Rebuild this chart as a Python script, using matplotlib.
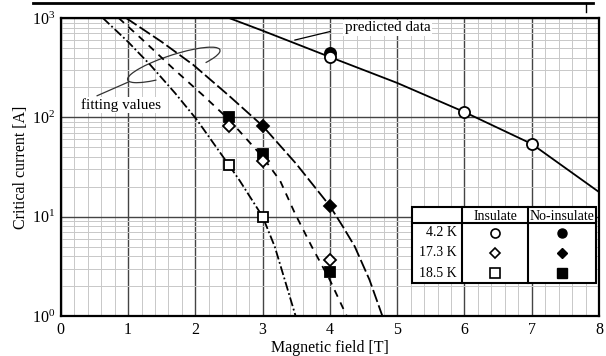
import matplotlib
matplotlib.use("Agg")
import matplotlib.pyplot as plt
from matplotlib.patches import Arc, Rectangle
from matplotlib.lines import Line2D
from matplotlib.ticker import MultipleLocator, LogLocator
from matplotlib.transforms import ScaledTranslation

plt.rcParams['font.family'] = ['Liberation Serif', 'DejaVu Serif']
plt.rcParams['mathtext.fontset'] = 'stix'

# predicted curve (solid)
pred_x = [2.5, 3, 4, 5, 6, 7, 8]
pred_y = [1000, 745, 405, 222, 113, 54, 17.7]

# fitting curves
fit_long_x = [0.97, 1.5, 1.97, 2.5, 3.0, 3.5, 3.7, 4.0, 4.2, 4.37, 4.59, 4.78]
fit_long_y = [1000, 575, 337, 165, 82, 34, 23, 12.8, 7.8, 5.0, 2.3, 1.0]
fit_dash_x = [0.86, 1.25, 1.67, 2.1, 2.5, 3.0, 3.26, 3.48, 3.73, 4.0, 4.25]
fit_dash_y = [1000, 575, 310, 170, 95, 40, 23, 10.8, 5.0, 2.3, 1.0]
fit_dd_x = [0.625, 1.0, 1.33, 1.7, 2.02, 2.5, 2.66, 3.0, 3.18, 3.33, 3.49]
fit_dd_y = [1000, 575, 337, 175, 95, 33, 23, 10, 5.0, 2.3, 1.0]

# measured points
ins_42_x, ins_42_y = [4, 6, 7], [405, 113, 54]
noi_42_x, noi_42_y = [4], [445]
ins_173_x, ins_173_y = [2.5, 3, 4], [82, 36, 3.7]
noi_173_x, noi_173_y = [3, 4], [82, 12.8]
ins_185_x, ins_185_y = [2.5, 3], [33, 10]
noi_185_x, noi_185_y = [2.5, 3, 4], [100, 43, 2.8]

temps = ["4.2 K", "17.3 K", "18.5 K"]
leg_markers = ["o", "D", "s"]
leg_sizes = [6.5, 5, 6.5]

fig = plt.figure(figsize=(6.06, 3.56), dpi=100)
ax = fig.add_axes([60.8 / 606, 40 / 356, 538.2 / 606, 298 / 356])

ax.set_yscale("log")
ax.set_xlim(0, 8)
ax.set_ylim(1, 1000)
ax.xaxis.set_major_locator(MultipleLocator(1))
ax.xaxis.set_minor_locator(MultipleLocator(0.2))
ax.yaxis.set_major_locator(LogLocator(base=10))
ax.yaxis.set_minor_locator(LogLocator(base=10, subs=range(2, 10)))
ax.grid(which="major", color="#444444", lw=1.0)
ax.grid(which="minor", color="#c8c8c8", lw=0.7)
ax.set_axisbelow(True)
ax.tick_params(which="both", length=0, labelsize=11.5, pad=4)
for s in ax.spines.values():
    s.set_linewidth(1.6)

ax.set_xlabel("Magnetic field [T]", fontsize=11.5, labelpad=2)
ax.set_ylabel("Critical current [A]", fontsize=11.5, labelpad=2)

ax.plot(pred_x, pred_y, color="black", lw=1.3)
ax.plot(fit_long_x, fit_long_y, color="black", lw=1.3, dashes=(7, 2))
ax.plot(fit_dash_x, fit_dash_y, color="black", lw=1.3, dashes=(4, 3.5))
ax.plot(fit_dd_x, fit_dd_y, color="black", lw=1.3, dashes=(5, 1.5, 1, 1.5))

mk = dict(color="black", ls="none", markeredgewidth=1.3, zorder=5)
ax.plot(noi_42_x, noi_42_y, marker="o", ms=8, mfc="black", **mk)
ax.plot(ins_42_x, ins_42_y, marker="o", ms=8, mfc="white", **mk)
ax.plot(noi_185_x, noi_185_y, marker="s", ms=7, mfc="black", **mk)
ax.plot(noi_173_x, noi_173_y, marker="D", ms=6, mfc="black", **mk)
ax.plot(ins_173_x, ins_173_y, marker="D", ms=6, mfc="white", **mk)
ax.plot(ins_185_x, ins_185_y, marker="s", ms=7, mfc="white", **mk)

# annotations
ax.text(4.22, 800, "predicted data", fontsize=11, va="center", ha="left",
        bbox=dict(fc="white", ec="none", pad=1), zorder=6)
ax.plot([3.48, 4.0], [600, 730], color="black", lw=0.9)
ax.text(0.9, 133, "fitting values", fontsize=11, va="center", ha="center",
        bbox=dict(fc="white", ec="none", pad=0.5), zorder=6)
ax.plot([0.54, 1.0], [165, 226], color="#333333", lw=0.9)
loop = Arc((0, 0), 0.97, 0.2, angle=18, theta1=346, theta2=203,
           transform=fig.dpi_scale_trans + ScaledTranslation(1.68, 337, ax.transData),
           color="#333333", lw=0.9)
ax.add_patch(loop)

# legend table
x0, x1 = 0.652, 0.994
y0, y1 = 0.112, 0.365
ax.add_patch(Rectangle((x0, y0), x1 - x0, y1 - y0, transform=ax.transAxes,
                       fc="white", ec="black", lw=1.5, zorder=7))
for xc in [0.746, 0.869]:
    ax.plot([xc, xc], [y0, y1], transform=ax.transAxes, color="black", lw=1.5, zorder=8)
ax.plot([x0, x1], [0.311, 0.311], transform=ax.transAxes, color="black", lw=1.5, zorder=8)
ax.text(0.808, 0.333, "Insulate", transform=ax.transAxes, fontsize=10,
        ha="center", va="center", zorder=9)
ax.text(0.931, 0.333, "No-insulate", transform=ax.transAxes, fontsize=10,
        ha="center", va="center", zorder=9)
row_y = [0.279, 0.212, 0.143]
for t, m, s, ry in zip(temps, leg_markers, leg_sizes, row_y):
    ax.text(0.735, ry, t, transform=ax.transAxes, fontsize=10, ha="right",
            va="center", zorder=9)
    ax.plot([0.807], [ry], transform=ax.transAxes, marker=m, ms=s, mfc="white",
            mec="black", mew=1.2, ls="none", zorder=9)
    ax.plot([0.931], [ry], transform=ax.transAxes, marker=m, ms=s, mfc="black",
            mec="black", ls="none", zorder=9)

# cropped border line at the top
fig.add_artist(Line2D([33 / 606, 593 / 606], [1 - 3 / 356, 1 - 3 / 356],
                      color="black", lw=2))
fig.add_artist(Line2D([586 / 606, 586 / 606], [1 - 3 / 356, 1 - 12 / 356],
                      color="black", lw=1))

fig.savefig("out.png", dpi=100)
